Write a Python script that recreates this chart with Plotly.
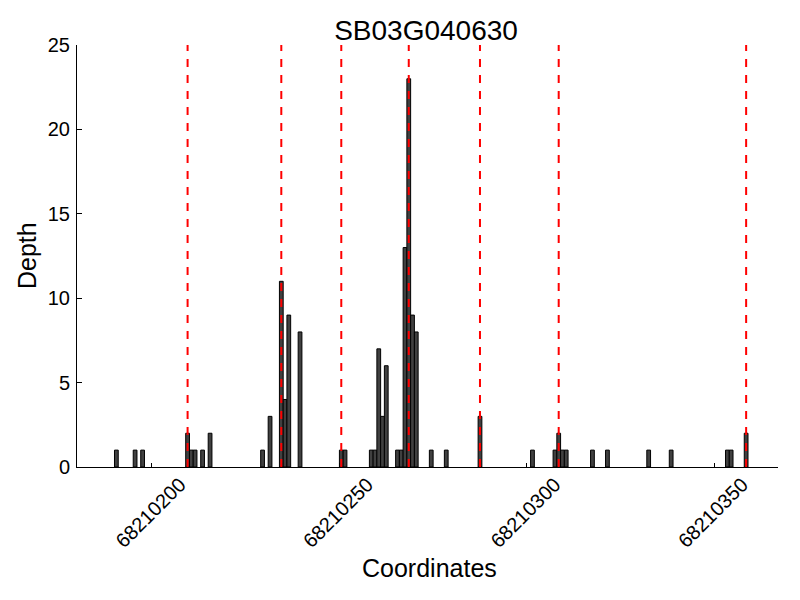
import plotly.graph_objects as go

BASE = 68210200
offsets = [-10, -5, -3, 9, 10, 11, 13, 15, 29, 31, 34, 35, 36, 39, 50, 51, 58, 59, 60, 61, 62,
           65, 66, 67, 68, 69, 70, 74, 78, 87, 101, 107, 108, 109, 110, 117, 121, 132, 138,
           153, 154, 158]
depths = [1, 1, 1, 2, 1, 1, 1, 2, 1, 3, 11, 4, 9, 8, 1, 1, 1, 1, 7, 3, 6,
          1, 1, 13, 23, 9, 8, 1, 1, 3, 1, 1, 2, 1, 1, 1, 1, 1, 1,
          1, 1, 2]
marker_offsets = [9, 34, 50, 68, 87, 108, 158]
x_ticks = [68210200, 68210250, 68210300, 68210350]
y_ticks = [0, 5, 10, 15, 20, 25]
title = "SB03G040630"

coords = [BASE + o for o in offsets]
markers = [BASE + o for o in marker_offsets]

FONT = "Liberation Sans, Arial, sans-serif"

# page has an 8px body margin: figure coords = page coords - 8
L, R, T, B = 69, 30, 37, 141
PW = 800 - L - R
PH = 600 - T - B

fig = go.Figure()
fig.add_trace(go.Bar(
    x=coords, y=depths, width=1, offset=0,
    marker=dict(color="rgb(64,64,64)", line=dict(color="black", width=1)),
    showlegend=False,
))

for m in markers:
    fig.add_shape(type="line", x0=m + 0.5, x1=m + 0.5, y0=0, y1=25,
                  xref="x", yref="y", layer="above",
                  line=dict(color="red", width=2, dash="8px,8px"))

fig.update_layout(
    width=800, height=600,
    paper_bgcolor="white", plot_bgcolor="white",
    margin=dict(l=L, r=R, t=T, b=B, autoexpand=False),
    font=dict(family=FONT, color="black", size=20),
    title=dict(text=title, x=(418) / 800, xanchor="center", y=1 - 22 / 600, yanchor="middle",
               font=dict(size=28, family=FONT, color="black")),
    xaxis=dict(range=[68210180, 68210367], tickmode="array", tickvals=x_ticks,
               ticktext=[str(v) for v in x_ticks], tickangle=-45, automargin=False,
               ticks="inside", ticklen=4, tickcolor="black", showline=True, linecolor="black",
               linewidth=1, showgrid=False, zeroline=False, tickfont=dict(size=20),
               ticklabelshift=28, ticklabelstandoff=-3),
    yaxis=dict(range=[0, 25], tickmode="array", tickvals=y_ticks, ticks="inside", ticklen=5,
               tickcolor="black", showline=True, linecolor="black", linewidth=1, automargin=False,
               showgrid=False, zeroline=False, tickfont=dict(size=20), ticklabelstandoff=2),
    annotations=[
        dict(text="Coordinates", xref="paper", yref="paper", x=(421 - L) / PW,
             y=(PH + T - 560) / PH,
             xanchor="center", yanchor="middle", showarrow=False, font=dict(size=25)),
        dict(text="Depth", xref="paper", yref="paper", x=(19 - L) / PW, y=0.5,
             xanchor="center", yanchor="middle", textangle=-90, showarrow=False,
             font=dict(size=25)),
    ],
)

fig.write_html("out.html")
